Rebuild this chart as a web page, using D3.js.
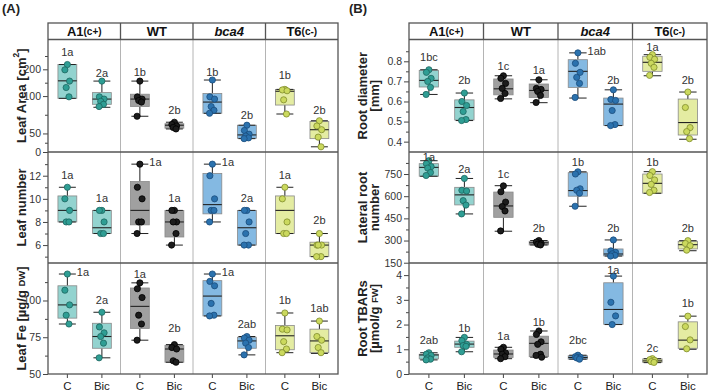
<!DOCTYPE html>
<html>
<head>
<meta charset="utf-8">
<script src="https://cdn.jsdelivr.net/npm/d3@7"></script>
<style>
  body { margin: 0; background: #fff; }
  svg { display: block; font-family: "Liberation Sans", Arial, sans-serif; }
</style>
</head>
<body>
<script>
const width = 709;
const height = 392;

const genotypes = ["A1", "WT", "bca4", "T6"];
const treatments = ["C", "Bic"];

// box order: A1 C, A1 Bic, WT C, WT Bic, bca4 C, bca4 Bic, T6 C, T6 Bic
// stats = [whisker low, q1, median, q3, whisker high]
// letterAt = value where the letter sits, null = beside the top whisker

// Leaf area (broken axis)
const leafAreaTicks = [0, 50, 100, 200];
const leafAreaMinor = [25, 75, 150, 250];
const leafAreaBreaks = [0, 50, 100, 200, 312];
const leafAreaStats = [
  [97, 97, 157, 218, 218], [85, 89, 96, 113, 156],
  [73, 86, 96, 107, 156], [56, 57, 61, 63, 65],
  [77, 77, 92, 110, 160], [36, 37, 46, 61, 61],
  [76, 88, 118, 125, 125], [14, 36, 55, 66, 67],
];
const leafAreaPoints = [
  [218, 198, 156, 132, 99], [156, 99, 96, 93, 89, 86],
  [156, 99, 96, 94, 92, 73], [65, 62, 60, 58, 56],
  [160, 99, 96, 86, 81, 77], [61, 54, 48, 43, 38, 36],
  [125, 123, 120, 95, 76], [67, 60, 55, 40, 14],
];
const leafAreaLetters = ["1a", "2a", "1b", "2b", "1b", "2b", "1b", "2b"];
const leafAreaLetterAt = [265, 186, 191, 81, 191, 75, 179, 81];

// Leaf number
const leafNumberTicks = [6, 8, 10, 12];
const leafNumberMinor = [5, 7, 9, 11, 13];
const leafNumberStats = [
  [8, 8, 9, 10.25, 11], [7, 7, 7.5, 9, 9],
  [7, 7.75, 9, 11.5, 13], [6, 6.7, 8, 9, 9],
  [8, 8.7, 9.5, 12.2, 13], [6, 6, 7.5, 9, 9],
  [7, 7, 9, 10.25, 11], [5, 5, 6, 6.25, 7],
];
const leafNumberPoints = [
  [11, 10, 9, 8, 8], [9, 9, 8, 7, 7],
  [13, 11, 10, 8, 8, 7], [9, 9, 8, 8, 7, 6],
  [13, 12, 10, 9, 9, 8], [9, 9, 8, 7, 6, 6],
  [11, 10, 8, 7, 7], [7, 6, 6, 6, 5, 5],
];
const leafNumberLetters = ["1a", "1a", "1a", "1a", "1a", "2a", "1a", "2b"];
const leafNumberLetterAt = [12.1, 10.1, null, 10.1, null, 10.1, 12.1, 8.2];

// Leaf Fe
const leafFeTicks = [50, 75, 100];
const leafFeMinor = [62.5, 87.5, 112.5];
const leafFeStats = [
  [84, 88, 97, 110, 118], [61, 67.5, 75.5, 84.5, 92],
  [73, 81, 96, 108.5, 112], [58, 58, 67, 69.5, 70],
  [89.5, 89.5, 103, 113.5, 118], [63, 67.5, 72.5, 75, 75.5],
  [64.5, 66.5, 76, 83, 91.5], [64, 64.5, 72.5, 80.5, 86],
];
const leafFePoints = [
  [118, 107, 97, 90, 84], [92, 82, 78, 75.5, 71, 61],
  [112, 108, 102, 90, 84, 73], [70, 68, 67, 59, 58],
  [118, 113, 110, 98, 90, 89.5], [75.5, 74.5, 73, 71, 68, 63],
  [91.5, 80.5, 80, 72, 67, 64.5], [86, 75.5, 73, 68, 64.5],
];
const leafFeLetters = ["1a", "2a", "1a", "2b", "1a", "2ab", "1b", "1ab"];
const leafFeLetterAt = [null, 100, 118, 81, null, 84, 100, 95];

// Root diameter
const rootDiamTicks = [0.4, 0.5, 0.6, 0.7, 0.8];
const rootDiamMinor = [0.45, 0.55, 0.65, 0.75, 0.85];
const rootDiamStats = [
  [0.635, 0.672, 0.705, 0.755, 0.758], [0.505, 0.508, 0.57, 0.608, 0.642],
  [0.613, 0.633, 0.663, 0.712, 0.728], [0.594, 0.62, 0.655, 0.687, 0.708],
  [0.617, 0.67, 0.75, 0.808, 0.842], [0.48, 0.48, 0.587, 0.617, 0.658],
  [0.728, 0.75, 0.795, 0.825, 0.833], [0.412, 0.433, 0.495, 0.612, 0.647],
];
const rootDiamPoints = [
  [0.758, 0.745, 0.715, 0.7, 0.67, 0.635], [0.642, 0.6, 0.58, 0.55, 0.51, 0.505],
  [0.728, 0.715, 0.69, 0.665, 0.64, 0.615], [0.708, 0.665, 0.66, 0.65, 0.63, 0.595],
  [0.842, 0.79, 0.745, 0.72, 0.69, 0.62], [0.658, 0.61, 0.605, 0.555, 0.485, 0.48],
  [0.833, 0.82, 0.81, 0.79, 0.77, 0.73], [0.647, 0.57, 0.47, 0.45, 0.415],
];
const rootDiamLetters = ["1bc", "2b", "1c", "1a", "1ab", "2b", "1a", "2b"];
const rootDiamLetterAt = [0.822, 0.705, 0.778, 0.755, null, 0.705, 0.87, 0.705];

// Lateral root number
const latRootTicks = [150, 300, 450, 600, 750];
const latRootMinor = [225, 375, 525, 675, 825];
const latRootStats = [
  [735, 735, 795, 820, 840], [480, 541, 609, 660, 720],
  [363, 457, 534, 628, 671], [270, 270, 285, 295, 300],
  [532, 600, 638, 759, 765], [195, 196, 209, 243, 304],
  [620, 620, 687, 750, 766], [231, 243, 272, 295, 299],
];
const latRootPoints = [
  [840, 820, 800, 790, 760, 740], [720, 640, 635, 570, 540, 480],
  [670, 630, 560, 530, 500, 365], [300, 290, 280, 275, 270],
  [765, 750, 650, 640, 620, 532], [304, 230, 220, 210, 200, 195],
  [766, 740, 710, 680, 640, 625], [299, 280, 265, 235],
];
const latRootLetters = ["1a", "2a", "1c", "2b", "1b", "2b", "1b", "2b"];
const latRootLetterAt = [867, 782, 748, 385, 832, 385, 832, 385];

// Root TBARs
const tbarsTicks = [0, 1, 2, 3, 4];
const tbarsMinor = [0.5, 1.5, 2.5, 3.5];
const tbarsStats = [
  [0.57, 0.61, 0.77, 0.8, 0.86], [0.9, 1.08, 1.21, 1.33, 1.48],
  [0.62, 0.67, 0.81, 0.97, 1.08], [0.68, 0.7, 1.24, 1.53, 1.74],
  [0.6, 0.6, 0.67, 0.74, 0.76], [2.0, 2.01, 2.61, 3.69, 3.96],
  [0.46, 0.47, 0.53, 0.61, 0.62], [1.0, 1.04, 1.37, 2.11, 2.34],
];
const tbarsPoints = [
  [0.86, 0.8, 0.75, 0.65, 0.6, 0.57], [1.48, 1.35, 1.2, 1.15, 1.12, 0.9],
  [1.08, 1.0, 0.85, 0.8, 0.7, 0.62], [1.74, 1.6, 1.3, 1.2, 0.8, 0.75, 0.68],
  [0.76, 0.7, 0.68, 0.65, 0.6], [3.96, 2.9, 2.35, 2.0],
  [0.62, 0.58, 0.55, 0.5, 0.47], [2.34, 1.92, 1.38, 1.02],
];
const tbarsLetters = ["2ab", "1b", "1a", "1b", "2bc", "1a", "2c", "1b"];
const tbarsLetterAt = [1.37, 1.85, 1.53, 2.09, 1.37, 4.2, 1.04, 2.88];

const boxFill = { A1: "#93d3cf", WT: "#a0a0a0", bca4: "#84b9e2", T6: "#e4eca2" };
const dotFill = { A1: "#2f9e94", WT: "#1c1c1c", bca4: "#2b72ae", T6: "#cbd95e" };
const dotStroke = { A1: "#1d6660", WT: "#000", bca4: "#1a4d7c", T6: "#7f8c2c" };
const jitter = [0, -2.5, 2.2, -1.2, 1.6, -2.8, 2.8];

const headerTop = 23;
const headerBottom = 39.5;
const rowEdges = [headerBottom, 152, 263, 374];

const panels = [
  {
    tag: "(A)", tagX: 2, x0: 48, x1: 338, titleX: [21],
    rows: [
      { title: [["Leaf Area [cm", ["2", "sup"], "]"]], ticks: leafAreaTicks, minor: leafAreaMinor,
        y: (r) => d3.scaleLinear().domain(leafAreaBreaks)
          .range([0, 0.165, 0.497, 0.735, 1].map((f) => r[1] - f * (r[1] - r[0]))),
        stats: leafAreaStats, points: leafAreaPoints, letters: leafAreaLetters, letterAt: leafAreaLetterAt },
      { title: [["Leaf number"]], ticks: leafNumberTicks, minor: leafNumberMinor,
        y: (r) => d3.scaleLinear().domain([4.45, 14.05]).range([r[1], r[0]]),
        stats: leafNumberStats, points: leafNumberPoints, letters: leafNumberLetters, letterAt: leafNumberLetterAt },
      { title: [["Leaf Fe [µg/g ", ["DW", "small"], "]"]], ticks: leafFeTicks, minor: leafFeMinor,
        y: (r) => d3.scaleLinear().domain([50, 125.5]).range([r[1], r[0]]),
        stats: leafFeStats, points: leafFePoints, letters: leafFeLetters, letterAt: leafFeLetterAt },
    ],
  },
  {
    tag: "(B)", tagX: 349, x0: 409, x1: 707, titleX: [362, 373.5],
    rows: [
      { title: [["Root diameter"], ["[mm]"]], ticks: rootDiamTicks, minor: rootDiamMinor,
        y: (r) => d3.scaleLinear().domain([0.3485, 0.9085]).range([r[1], r[0]]),
        stats: rootDiamStats, points: rootDiamPoints, letters: rootDiamLetters, letterAt: rootDiamLetterAt,
        fmt: d3.format(".1f") },
      { title: [["Lateral root"], ["number"]], ticks: latRootTicks, minor: latRootMinor,
        y: (r) => d3.scaleLinear().domain([148, 899]).range([r[1], r[0]]),
        stats: latRootStats, points: latRootPoints, letters: latRootLetters, letterAt: latRootLetterAt },
      { title: [["Root TBARs"], ["[µmol/g ", ["FW", "small"], "]"]], ticks: tbarsTicks, minor: tbarsMinor,
        y: (r) => d3.scaleLinear().domain([0, 4.49]).range([r[1], r[0]]),
        stats: tbarsStats, points: tbarsPoints, letters: tbarsLetters, letterAt: tbarsLetterAt },
    ],
  },
];

const svg = d3.select("body").append("svg")
  .attr("width", width)
  .attr("height", height);

function addRich(text, parts) {
  parts.forEach((p) => {
    if (typeof p === "string") {
      text.append("tspan").text(p);
    } else if (p[1] === "sup") {
      text.append("tspan").attr("font-size", 8.5).attr("dy", -5).text(p[0]);
      text.append("tspan").attr("dy", 5).text("]");
    } else {
      text.append("tspan").attr("font-size", 9.5).text(p[0]);
    }
  });
}

panels.forEach((panel) => {
  const g = svg.append("g");
  const xCol = d3.scaleBand(genotypes, [panel.x0, panel.x1]);
  const bw = xCol.bandwidth() * 0.26;

  g.append("text")
    .attr("x", panel.tagX).attr("y", 12.5)
    .attr("font-size", 13).attr("font-weight", "bold").attr("fill", "#222")
    .text(panel.tag);

  // column dividers in body
  g.append("g").selectAll("line")
    .data(genotypes.slice(1))
    .join("line")
    .attr("x1", (d) => xCol(d)).attr("x2", (d) => xCol(d))
    .attr("y1", headerBottom).attr("y2", rowEdges[3])
    .attr("stroke", "#b4b4b4").attr("stroke-width", 1);

  panel.rows.forEach((row, ri) => {
    const r = [rowEdges[ri], rowEdges[ri + 1]];
    const y = row.y(r);
    const fmt = row.fmt || ((d) => d);

    // axis
    const ax = g.append("g")
      .attr("transform", `translate(${panel.x0},0)`)
      .call(d3.axisLeft(y).tickValues(row.ticks).tickSize(5).tickSizeOuter(0).tickFormat(fmt));
    ax.select(".domain").remove();
    ax.selectAll("line").attr("stroke", "#444");
    ax.selectAll("text").attr("font-size", 10.5).attr("fill", "#333")
      .attr("font-family", "Liberation Sans, Arial, sans-serif").attr("x", -7);
    const mx = g.append("g")
      .attr("transform", `translate(${panel.x0},0)`)
      .call(d3.axisLeft(y).tickValues(row.minor).tickSize(3).tickFormat(""));
    mx.select(".domain").remove();
    mx.selectAll("line").attr("stroke", "#444");

    // title
    const mid = (r[0] + r[1]) / 2;
    row.title.forEach((parts, li) => {
      const t = g.append("text")
        .attr("transform", `translate(${panel.titleX[li]},${mid}) rotate(-90)`)
        .attr("text-anchor", "middle").attr("dominant-baseline", "central")
        .attr("font-size", 13).attr("font-weight", "bold").attr("fill", "#222");
      addRich(t, parts.filter((p, i) => !(p === "]" && i > 0 && Array.isArray(parts[i - 1]) && parts[i - 1][1] === "sup")));
    });

    // boxes
    const data = [];
    genotypes.forEach((gt, gi) => {
      const xT = d3.scalePoint(treatments, [xCol(gt), xCol(gt) + xCol.bandwidth()])
        .padding(0.55).align(0.51);
      treatments.forEach((tr, ti) => {
        const k = gi * 2 + ti;
        data.push({ gt, cx: xT(tr), s: row.stats[k], pts: row.points[k],
          letter: row.letters[k], at: row.letterAt[k] });
      });
    });

    const b = g.append("g").selectAll("g").data(data).join("g");
    b.append("line")
      .attr("x1", (d) => d.cx).attr("x2", (d) => d.cx)
      .attr("y1", (d) => y(d.s[4])).attr("y2", (d) => y(d.s[3]))
      .attr("stroke", "#222");
    b.append("line")
      .attr("x1", (d) => d.cx).attr("x2", (d) => d.cx)
      .attr("y1", (d) => y(d.s[1])).attr("y2", (d) => y(d.s[0]))
      .attr("stroke", "#222");
    b.append("rect")
      .attr("x", (d) => d.cx - bw / 2).attr("width", bw)
      .attr("y", (d) => y(d.s[3]))
      .attr("height", (d) => Math.max(1, y(d.s[1]) - y(d.s[3])))
      .attr("fill", (d) => boxFill[d.gt])
      .attr("stroke", "#8a8a8a").attr("stroke-width", 0.8);
    [0, 4].forEach((i) => {
      b.append("line")
        .attr("x1", (d) => d.cx - bw * 0.45).attr("x2", (d) => d.cx + bw * 0.45)
        .attr("y1", (d) => y(d.s[i])).attr("y2", (d) => y(d.s[i]))
        .attr("stroke", "#222").attr("stroke-width", 1);
    });
    b.append("line")
      .attr("x1", (d) => d.cx - bw / 2).attr("x2", (d) => d.cx + bw / 2)
      .attr("y1", (d) => y(d.s[2])).attr("y2", (d) => y(d.s[2]))
      .attr("stroke", "#222").attr("stroke-width", 1.1);

    b.selectAll("circle")
      .data((d) => d.pts.map((v, i) => ({ v, i, d })))
      .join("circle")
      .attr("cx", (p) => p.d.cx + jitter[p.i % jitter.length])
      .attr("cy", (p) => y(p.v))
      .attr("r", 3.1)
      .attr("fill", (p) => dotFill[p.d.gt])
      .attr("stroke", (p) => dotStroke[p.d.gt])
      .attr("stroke-width", 0.8);

    b.append("text")
      .attr("x", (d) => (d.at === null ? d.cx + bw * 0.45 + 1 : d.cx))
      .attr("y", (d) => (d.at === null ? y(d.s[4]) - 2 : y(d.at)))
      .attr("text-anchor", (d) => (d.at === null ? "start" : "middle"))
      .attr("dominant-baseline", "central")
      .attr("font-size", 11).attr("fill", "#333")
      .text((d) => d.letter);

    // x ticks and labels under the last row
    if (ri === panel.rows.length - 1) {
      g.append("g").selectAll("line").data(data).join("line")
        .attr("x1", (d) => d.cx).attr("x2", (d) => d.cx)
        .attr("y1", r[1]).attr("y2", r[1] + 4)
        .attr("stroke", "#444");
      g.append("g").selectAll("text").data(data).join("text")
        .attr("x", (d) => d.cx).attr("y", 389.5)
        .attr("text-anchor", "middle").attr("font-size", 11.5).attr("fill", "#222")
        .text((d, i) => treatments[i % 2]);
    }
  });

  // header strip and frame
  g.append("rect")
    .attr("x", panel.x0).attr("y", headerTop)
    .attr("width", panel.x1 - panel.x0).attr("height", headerBottom - headerTop)
    .attr("fill", "#fff");
  const hdr = g.append("g").selectAll("text").data(genotypes).join("text")
    .attr("x", (d) => xCol(d) + xCol.bandwidth() / 2)
    .attr("y", (headerTop + headerBottom) / 2)
    .attr("text-anchor", "middle").attr("dominant-baseline", "central")
    .attr("font-size", 13).attr("font-weight", "bold").attr("fill", "#111")
    .attr("font-style", (d) => (d === "bca4" ? "italic" : null));
  hdr.append("tspan").text((d) => d);
  hdr.filter((d) => d === "A1").append("tspan").attr("font-size", 10).text("(c+)");
  hdr.filter((d) => d === "T6").append("tspan").attr("font-size", 10).text("(c-)");

  g.append("g").selectAll("line")
    .data(genotypes.slice(1))
    .join("line")
    .attr("x1", (d) => xCol(d)).attr("x2", (d) => xCol(d))
    .attr("y1", headerTop).attr("y2", headerBottom)
    .attr("stroke", "#555").attr("stroke-width", 1.3);
  g.append("g").selectAll("line")
    .data(rowEdges.slice(0, 3))
    .join("line")
    .attr("x1", panel.x0).attr("x2", panel.x1)
    .attr("y1", (d) => d).attr("y2", (d) => d)
    .attr("stroke", "#555").attr("stroke-width", 1.3);
  g.append("rect")
    .attr("x", panel.x0).attr("y", headerTop)
    .attr("width", panel.x1 - panel.x0).attr("height", rowEdges[3] - headerTop)
    .attr("fill", "none").attr("stroke", "#555").attr("stroke-width", 1.3);
});
</script>
</body>
</html>
